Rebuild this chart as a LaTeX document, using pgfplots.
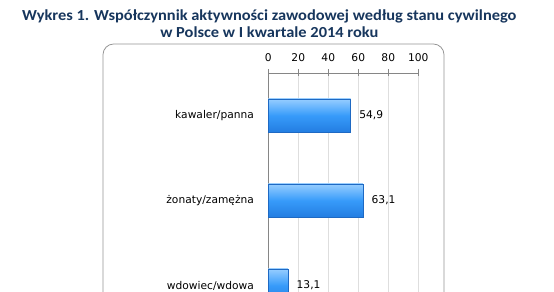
\documentclass[border=0pt]{standalone}
\usepackage{fontspec}
\setmainfont{DejaVu Sans}
\newfontfamily\titlefont[FakeStretch=1.07]{Carlito}
\usepackage{pgfplots}
\pgfplotsset{compat=1.18}
\definecolor{titleblue}{RGB}{23,54,93}
\definecolor{barblue}{RGB}{55,155,250}
\definecolor{bartop}{RGB}{150,205,255}
\definecolor{barbot}{RGB}{35,125,225}
\definecolor{baredge}{RGB}{30,105,195}
\definecolor{axisgray}{RGB}{134,134,134}
\definecolor{gridgray}{RGB}{222,222,222}
\definecolor{framegray}{RGB}{150,150,150}
\pgfplotsset{mybar/.style={xbar, bar width=24.75pt, bar shift=0pt, top color=bartop, bottom color=barbot, middle color=barblue, draw=baredge, line width=0.5pt,
  point meta=x, nodes near coords,
  nodes near coords style={anchor=west, xshift=3pt, font=\fontsize{8}{9}\selectfont, text=black,
    /pgf/number format/.cd, fixed, precision=1, fixed zerofill, use comma, assume math mode=true}}}
\begin{document}
\begin{tikzpicture}
\clip (0,0) rectangle (415.5pt,219pt);
\fill[white] (0,0) rectangle (415.5pt,219pt);
\draw[framegray, rounded corners=8pt, line width=0.6pt] (77.25pt,-30pt) rectangle (333pt,186pt);
\begin{axis}[
  at={(201.2pt,164.25pt)}, anchor=north west,
  scale only axis, width=112.5pt, height=191.25pt,
  xmin=0, xmax=100, ymin=-0.5, ymax=2.5,
  axis x line*=top, axis y line*=left,
  axis line style={axisgray, line width=0.6pt},
  xtick={0,20,...,100},
  xtick align=center,
  major tick length=5.25pt,
  x tick style={axisgray, line width=0.6pt},
  xmajorgrids, grid style={gridgray, line width=0.6pt},
  ytick={0,1,2},
  yticklabels={wdowiec/wdowa, żonaty/zamężna, kawaler/panna},
  y tick style={draw=none},
  minor ytick={0.5,1.5},
  ytick align=outside,
  minor tick length=3pt,
  minor y tick style={axisgray, line width=0.6pt},
  tick label style={font=\fontsize{8}{9}\selectfont, text=black},
  xticklabel style={yshift=2.5pt},
  yticklabel style={xshift=-2pt},
  /pgf/number format/assume math mode=true,
  clip=false,
]
\addplot[mybar] coordinates {(54.9,2)};
\addplot[mybar] coordinates {(63.1,1)};
\addplot[mybar] coordinates {(13.1,0)};
\end{axis}
\node[font=\titlefont\bfseries\fontsize{11.5}{12.75}\selectfont, text=titleblue, align=center] at (202pt, 201.4pt)
  {Wykres 1. Współczynnik aktywności zawodowej według stanu cywilnego\\w Polsce w I kwartale 2014 roku};
\end{tikzpicture}
\end{document}
